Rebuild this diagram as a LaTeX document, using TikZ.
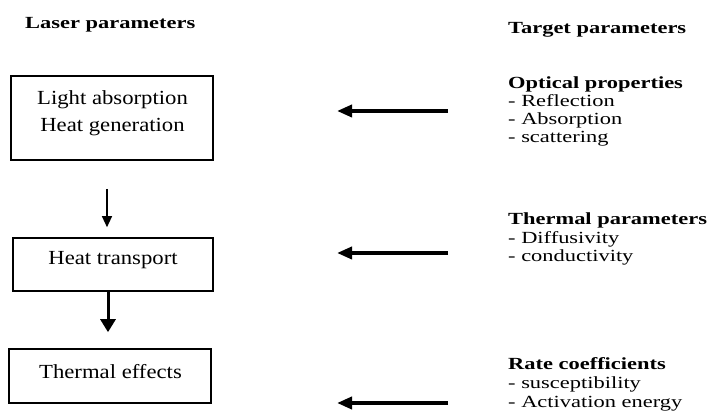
\documentclass[tikz,border=0pt]{standalone}
\usepackage{fontspec}
\setmainfont{Liberation Serif}
\newfontfamily\colfont[FakeStretch=1.32]{Liberation Serif}
\newfontfamily\boxfont[FakeStretch=1.135]{Liberation Serif}
\usetikzlibrary{arrows.meta,calc}
\begin{document}
\begin{tikzpicture}[x=1pt,y=-1pt,
  boxnode/.style={draw, line width=1.6pt, inner sep=0pt},
  boxtext/.style={inner sep=0pt, anchor=base, font=\boxfont\fontsize{20}{24}\selectfont},
  headtext/.style={inner sep=0pt, anchor=base west, font=\colfont\bfseries\fontsize{17}{18}\selectfont},
  coltext/.style={inner sep=0pt, anchor=base west, font=\colfont\fontsize{17}{18}\selectfont},
  thinarrow/.style={line width=1.3pt, -{Triangle[length=11pt,width=10pt]}},
  thickarrow/.style={line width=3pt, -{Triangle[length=13pt,width=15pt]}},
  harrow/.style={line width=3.6pt, -{Triangle[length=15pt,width=12pt]}}
]
\useasboundingbox (0,0) rectangle (712,419);

% headings
\node[headtext] (lp) at (25,29) {Laser parameters};
\node[headtext] (tp) at (508,34) {Target parameters};

% boxes
\node[boxnode, minimum width=202pt, minimum height=84pt] (b1) at (112,118) {};
\node[boxtext] (t1a) at (112.5,105) {Light absorption};
\node[boxtext] (t1b) at (112.5,132) {Heat generation};

\node[boxnode, minimum width=200pt, minimum height=53pt] (b2) at (113,264.5) {};
\node[boxtext] (t2) at (113,265) {Heat transport};

\node[boxnode, minimum width=202pt, minimum height=54pt] (b3) at (110,376) {};
\node[boxtext] (t3) at (110.5,378) {Thermal effects};

% vertical arrows
\coordinate (a1s) at (107,189);
\draw[thinarrow, shorten >=10pt] (a1s) -- (a1s |- b2.north);
\coordinate (a2s) at ([xshift=-5pt]b2.south);
\draw[thickarrow, shorten >=16pt] (a2s) -- (a2s |- b3.north);

% right column
\node[headtext] (op) at (508,89) {Optical properties};
\node[coltext] (op1) at (508,107) {- Reflection};
\node[coltext] (op2) at (508,125) {- Absorption};
\node[coltext] (op3) at (508,142.5) {- scattering};

\node[headtext] (thp) at (508,225) {Thermal parameters};
\node[coltext] (thp1) at (508,243.5) {- Diffusivity};
\node[coltext] (thp2) at (508,262) {- conductivity};

\node[headtext] (rc) at (508,370) {Rate coefficients};
\node[coltext] (rc1) at (508,388.5) {- susceptibility};
\node[coltext] (rc2) at (508,407) {- Activation energy};

% horizontal arrows
\coordinate (h1s) at (448,111);
\coordinate (h1e) at (337,111);
\coordinate (h2s) at (448,253);
\coordinate (h2e) at (337,253);
\coordinate (h3s) at (448,403);
\coordinate (h3e) at (337,403);
\draw[harrow] (h1s) -- (h1e);
\draw[harrow] (h2s) -- (h2e);
\draw[harrow] (h3s) -- (h3e);
\end{tikzpicture}
\end{document}
